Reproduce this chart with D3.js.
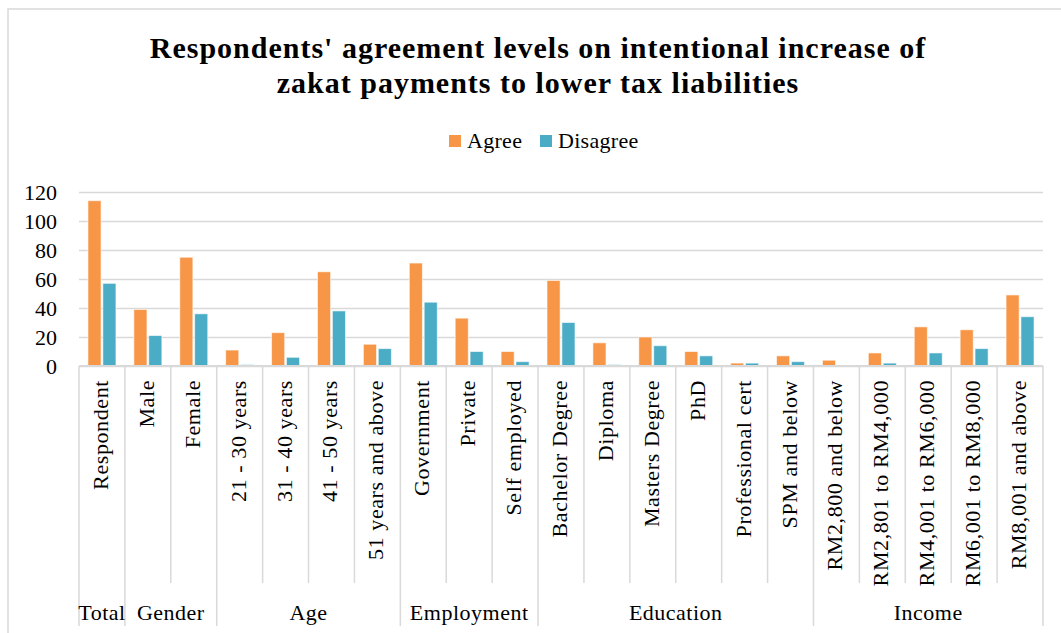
<!DOCTYPE html>
<html>
<head>
<meta charset="utf-8">
<script src="https://cdn.jsdelivr.net/npm/d3@7"></script>
<style>
  body { margin: 0; background: #fff; }
  svg text { font-family: "Liberation Serif", "Times New Roman", serif; fill: #000; }
</style>
</head>
<body>
<svg id="chart" width="1061" height="633"></svg>
<script>
// Chart data
const groups = [
  { name: "Total", size: 1 },
  { name: "Gender", size: 2 },
  { name: "Age", size: 4 },
  { name: "Employment", size: 3 },
  { name: "Education", size: 6 },
  { name: "Income", size: 5 }
];
const categories = [
  "Respondent", "Male", "Female",
  "21 - 30 years", "31 - 40 years", "41 - 50 years", "51 years and above",
  "Government", "Private", "Self employed",
  "Bachelor Degree", "Diploma", "Masters Degree", "PhD", "Professional cert", "SPM and below",
  "RM2,800 and below", "RM2,801 to RM4,000", "RM4,001 to RM6,000", "RM6,001 to RM8,000", "RM8,001 and above"
];
const agree =    [114, 39, 75, 11, 23, 65, 15, 71, 33, 10, 59, 16, 20, 10, 2, 7, 4, 9, 27, 25, 49];
const disagree = [57, 21, 36, 1, 6, 38, 12, 44, 10, 3, 30, 1, 14, 7, 2, 3, 0, 2, 9, 12, 34];
const seriesNames = ["Agree", "Disagree"];
const seriesColors = ["#f79646", "#4bacc6"];
const yTicks = [0, 20, 40, 60, 80, 100, 120];

const svg = d3.select("#chart");
const plotLeft = 79, plotRight = 1043, plotTop = 192, plotBottom = 366;

// outer chart border (cropped at right/bottom)
svg.append("rect")
  .attr("x", 8).attr("y", 9)
  .attr("width", 1100).attr("height", 700)
  .attr("fill", "none")
  .attr("stroke", "#d9d9d9")
  .attr("stroke-width", 1.5);

// title
const title = svg.append("text")
  .attr("text-anchor", "middle")
  .style("font-size", "30px")
  .style("letter-spacing", "1px")
  .style("font-weight", "bold");
title.append("tspan").attr("x", 538).attr("y", 58)
  .text("Respondents' agreement levels on intentional increase of");
title.append("tspan").attr("x", 538).attr("y", 93)
  .text("zakat payments to lower tax liabilities");

// scales
const x = d3.scaleBand().domain(categories).range([plotLeft, plotRight]);
const x1 = d3.scaleBand().domain(seriesNames).range([-14, 14]).paddingInner(0.12);
const y = d3.scaleLinear().domain([0, 120]).range([plotBottom, plotTop]);

// gridlines
svg.append("g")
  .attr("transform", `translate(${plotLeft},0)`)
  .call(d3.axisLeft(y).tickValues(yTicks).tickSize(-(plotRight - plotLeft)).tickFormat(""))
  .call(g => g.select(".domain").remove())
  .call(g => g.selectAll("line").attr("stroke", "#d9d9d9").attr("stroke-width", 1.5));

// y labels
svg.append("g")
  .attr("transform", `translate(${plotLeft - 22},0)`)
  .call(d3.axisLeft(y).tickValues(yTicks).tickSize(0))
  .call(g => g.select(".domain").remove())
  .call(g => g.selectAll("text").style("font-size", "22px").attr("x", 0));

// bars
const data = categories.map((c, i) => ({ cat: c, values: [agree[i], disagree[i]] }));
const catG = svg.selectAll(".cat")
  .data(data)
  .enter().append("g")
  .attr("transform", d => `translate(${x(d.cat) + x.bandwidth() / 2},0)`);
catG.selectAll("rect")
  .data(d => d.values.map((v, k) => ({ key: seriesNames[k], v, k })))
  .enter().append("rect")
  .attr("x", d => x1(d.key))
  .attr("width", x1.bandwidth())
  .attr("y", d => y(d.v))
  .attr("height", d => y(0) - y(d.v))
  .attr("fill", d => seriesColors[d.k])
  .attr("stroke", "#fff")
  .attr("stroke-opacity", 0.6)
  .attr("stroke-width", 1);

// x axis line
svg.append("line")
  .attr("x1", plotLeft).attr("x2", plotRight)
  .attr("y1", y(0)).attr("y2", y(0))
  .attr("stroke", "#d9d9d9").attr("stroke-width", 2);

// separators
const groupEdges = new Set();
let acc = 0;
groupEdges.add(0);
groups.forEach(g => { acc += g.size; groupEdges.add(acc); });
d3.range(categories.length + 1).forEach(i => {
  const xx = i < categories.length ? x(categories[i]) : plotRight;
  svg.append("line")
    .attr("x1", xx).attr("x2", xx)
    .attr("y1", y(0)).attr("y2", groupEdges.has(i) ? 626 : 583)
    .attr("stroke", "#d9d9d9").attr("stroke-width", 1.5);
});

// category labels
svg.selectAll(".catLabel")
  .data(categories)
  .enter().append("text")
  .attr("transform", d => `translate(${x(d) + x.bandwidth() / 2 + 6},380) rotate(-90)`)
  .attr("text-anchor", "end")
  .style("font-size", "22px")
  .style("letter-spacing", "0.6px")
  .text(d => d);

// group labels
acc = 0;
groups.forEach(g => {
  const x0 = x(categories[acc]);
  const xEnd = acc + g.size < categories.length ? x(categories[acc + g.size]) : plotRight;
  acc += g.size;
  svg.append("text")
    .attr("x", (x0 + xEnd) / 2)
    .attr("y", 620)
    .attr("text-anchor", "middle")
    .style("font-size", "22px")
    .style("letter-spacing", "0.5px")
    .text(g.name);
});

// legend
const legend = svg.append("g");
const legendX = [449, 540];
seriesNames.forEach((s, k) => {
  legend.append("rect")
    .attr("x", legendX[k]).attr("y", 135)
    .attr("width", 12).attr("height", 12)
    .attr("fill", seriesColors[k]);
  legend.append("text")
    .attr("x", legendX[k] + 18).attr("y", 148)
    .style("font-size", "22px")
    .style("letter-spacing", "0.3px")
    .text(s);
});
</script>
</body>
</html>
